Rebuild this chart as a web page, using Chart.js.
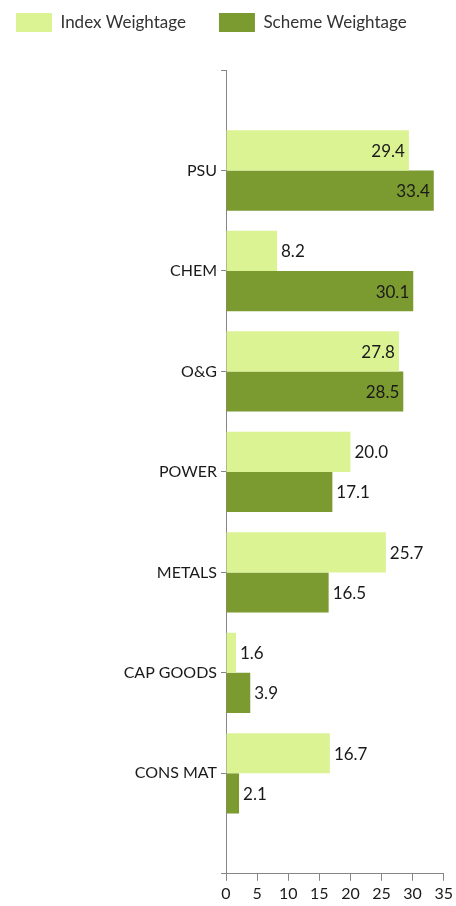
<!DOCTYPE html>
<html>
<head>
<meta charset="utf-8">
<script src="https://cdn.jsdelivr.net/npm/chart.js@4.4.0/dist/chart.umd.min.js"></script>
<style>
  html, body { margin: 0; padding: 0; background: #fff; }
  #wrap { width: 456px; height: 906px; }
</style>
</head>
<body>
<div id="wrap"><canvas id="grafico"></canvas></div>
<script>
// datos del grafico
const sectores = ['PSU', 'CHEM', 'O&G', 'POWER', 'METALS', 'CAP GOODS', 'CONS MAT'];
const pesoIndice = [29.4, 8.2, 27.8, 20.0, 25.7, 1.6, 16.7];
const pesoEsquema = [33.4, 30.1, 28.5, 17.1, 16.5, 3.9, 2.1];
const ticksX = [0, 5, 10, 15, 20, 25, 30, 35];

// huecos vacios arriba y abajo, como en el original
const etiquetas = [''].concat(sectores, ['']);
const relleno = (arr) => [null].concat(arr, [null]);

const colorEje = '#868686';
const fuente = 'Lato, "Open Sans", sans-serif';

// leyenda mas alta para bajar el area del grafico
const altoLeyenda = {
    id: 'altoLeyenda',
    beforeInit(chart) {
        const fitOriginal = chart.legend.fit;
        chart.legend.fit = function () {
            fitOriginal.bind(chart.legend)();
            this.height = 90;
        };
    }
};

// etiquetas de valor al final de cada barra
const valores = {
    id: 'valores',
    afterDatasetsDraw(chart) {
        const ctx = chart.ctx;
        ctx.save();
        ctx.font = '17px ' + fuente;
        ctx.fillStyle = '#1a1a1a';
        ctx.textBaseline = 'middle';
        chart.data.datasets.forEach((ds, i) => {
            chart.getDatasetMeta(i).data.forEach((bar, j) => {
                const v = ds.data[j];
                if (v == null) return;
                const txt = v.toFixed(1);
                if (v > 26) {
                    ctx.textAlign = 'right';
                    ctx.fillText(txt, bar.x - 4, bar.y + 1);
                } else {
                    ctx.textAlign = 'left';
                    ctx.fillText(txt, bar.x + 4, bar.y + 1);
                }
            });
        });
        ctx.restore();
    }
};

new Chart(document.getElementById('grafico'), {
    type: 'bar',
    data: {
        labels: etiquetas,
        datasets: [
            {
                label: 'Index Weightage',
                data: relleno(pesoIndice),
                backgroundColor: '#dbf393',
                categoryPercentage: 0.8,
                barPercentage: 1.0
            },
            {
                label: 'Scheme Weightage',
                data: relleno(pesoEsquema),
                backgroundColor: '#7b9a30',
                categoryPercentage: 0.8,
                barPercentage: 1.0
            }
        ]
    },
    options: {
        indexAxis: 'y',
        responsive: true,
        maintainAspectRatio: false,
        animation: false,
        layout: { padding: { top: -20, right: 3, left: -17, bottom: 0 } },
        plugins: {
            legend: {
                position: 'top',
                align: 'start',
                labels: {
                    boxWidth: 36,
                    boxHeight: 19,
                    padding: 33,
                    color: '#333',
                    font: { size: 17, family: fuente }
                }
            },
            tooltip: { enabled: false }
        },
        scales: {
            y: {
                offset: false,
                afterFit: (scale) => { scale.width = 243; },
                grid: {
                    display: true,
                    offset: false,
                    drawOnChartArea: false,
                    tickLength: 5,
                    color: colorEje
                },
                border: { color: colorEje },
                ticks: {
                    color: '#1a1a1a',
                    padding: 4,
                    font: { size: 16, family: fuente },
                    autoSkip: false
                }
            },
            x: {
                min: ticksX[0],
                max: ticksX[ticksX.length - 1],
                afterBuildTicks: (scale) => { scale.ticks = ticksX.map(v => ({ value: v })); },
                grid: {
                    display: true,
                    drawOnChartArea: false,
                    tickLength: 7,
                    color: colorEje
                },
                border: { color: colorEje },
                ticks: {
                    color: '#1a1a1a',
                    padding: 3,
                    maxRotation: 0,
                    font: { size: 16, family: fuente }
                }
            }
        }
    },
    plugins: [altoLeyenda, valores]
});
</script>
</body>
</html>
